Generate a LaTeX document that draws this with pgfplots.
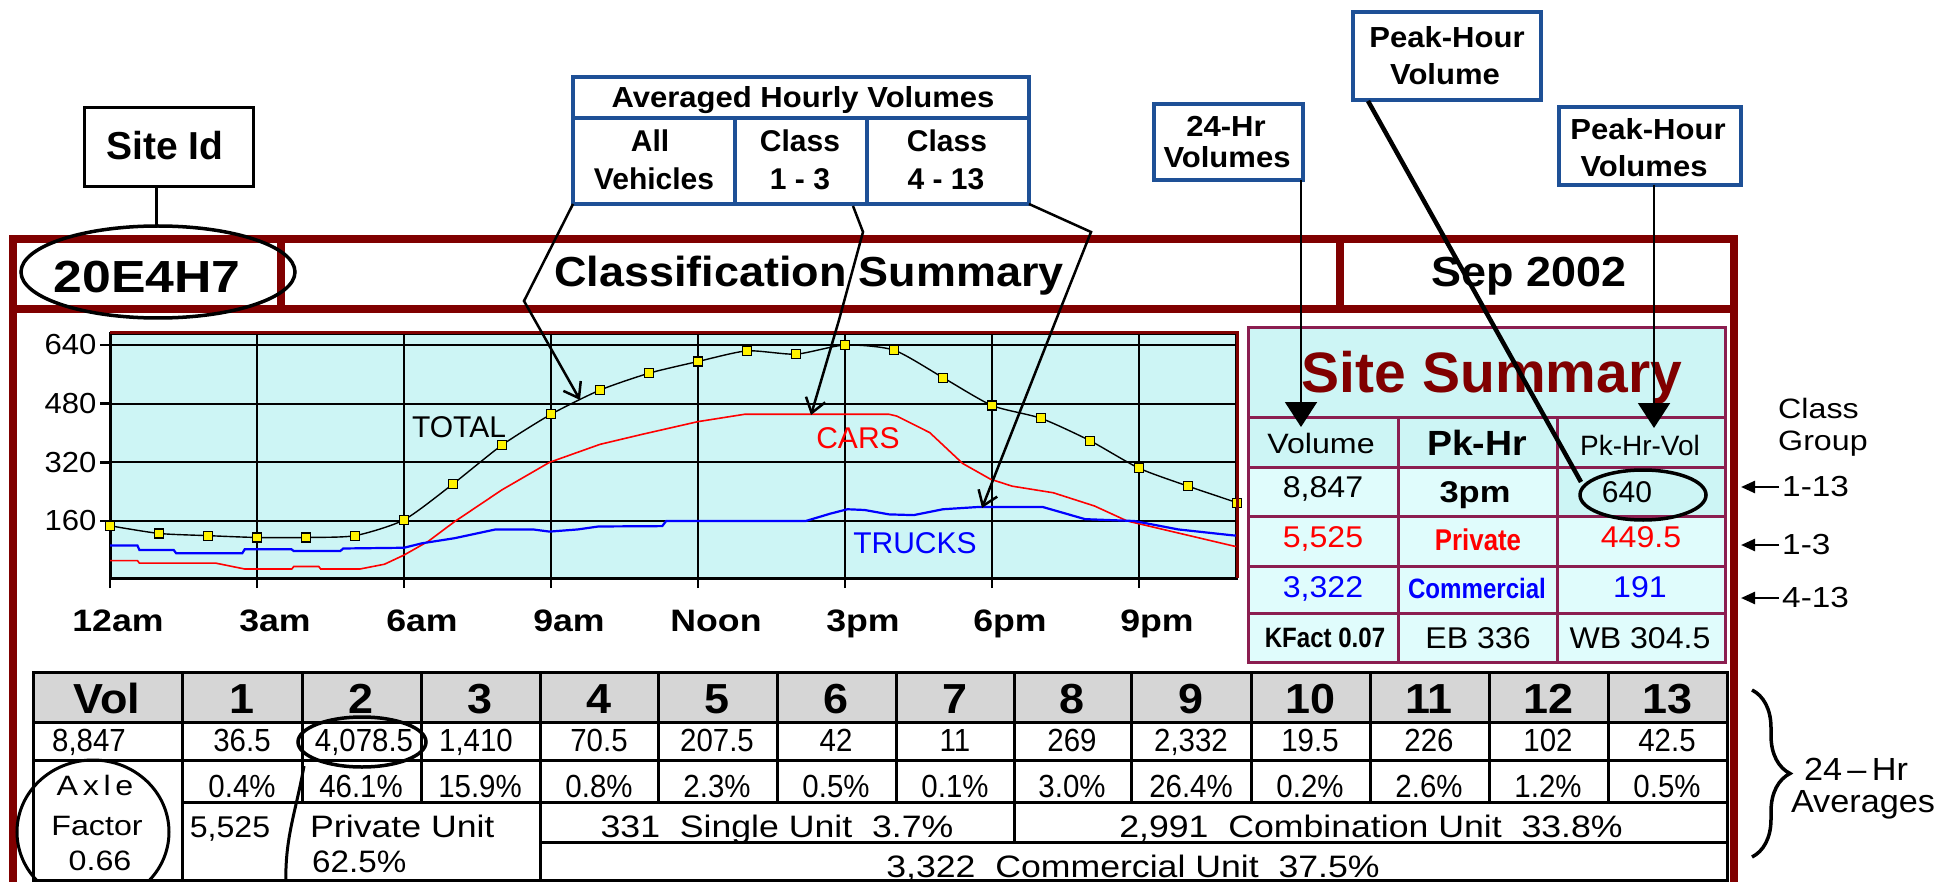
\documentclass[border=0pt]{standalone}
\usepackage{fontspec}
\usepackage{pgfplots}
\pgfplotsset{compat=1.18}
\usetikzlibrary{arrows.meta,decorations.pathreplacing}
\setmainfont{Liberation Sans}
\newfontfamily\W[FakeStretch=1.15]{Liberation Sans}
\newfontfamily\M[FakeStretch=1.07]{Liberation Sans}
\newfontfamily\N[FakeStretch=0.86]{Liberation Sans}
\newfontfamily\T[FakeStretch=0.92]{Liberation Sans}
\newcommand\fs[1]{\fontsize{#1}{#1}\selectfont}
\definecolor{frame}{RGB}{128,0,0}
\definecolor{ssb}{RGB}{139,30,80}
\definecolor{bbox}{RGB}{30,80,150}
\definecolor{cyanbg}{RGB}{205,245,245}
\definecolor{cyanlt}{RGB}{224,252,252}
\definecolor{hdr}{RGB}{214,214,214}
\begin{document}
\begin{tikzpicture}
\useasboundingbox (0pt,0pt) rectangle (1948pt,-882pt);
\clip (0pt,0pt) rectangle (1948pt,-882pt);
\begin{scope}[x=1pt,y=-1pt]
% main frame
\draw[frame, line width=8pt] (13,890) -- (13,239) -- (1734,239) -- (1734,890);
\draw[frame, line width=8pt] (9,309) -- (1738,309);
\draw[frame, line width=8pt] (281,239) -- (281,309);
\draw[frame, line width=8pt] (1340,239) -- (1340,309);
\node[anchor=base, inner sep=0] at (809,287) {\M\bfseries\fs{42}Classification Summary};
\node[anchor=base, inner sep=0] at (1529,287) {\M\bfseries\fs{42}Sep 2002};
\node[anchor=base, inner sep=0] at (147,293) {\W\bfseries\fs{45}20E4H7};
\end{scope}

\begin{axis}[
  at={(110pt,-578pt)}, anchor=south west, scale only axis,
  width=1127pt, height=245pt,
  xmin=0, xmax=23, ymin=4.5, ymax=672.7,
  axis background/.style={fill=cyanbg},
  axis line style={black, line width=3pt},
  xtick={0,3,...,21},
  xticklabels={{\kern-20pt 12am},3am,6am,9am,Noon,3pm,6pm,9pm},
  ytick={160,320,480,640},
  tick pos=left, tick align=outside, major tick length=10pt,
  tick style={black, line width=2.5pt},
  grid=major, major grid style={black, line width=2pt},
  xticklabel style={font=\W\bfseries\fs{31}, anchor=base, xshift=18pt, yshift=-43pt},
  yticklabel style={font=\M\fs{29}, anchor=east},
  /pgf/number format/assume math mode=true,
  clip=false,
]
\addplot[red, line width=1.6pt] coordinates {
(0,52) (0.56,52) (0.6,45) (2.16,45) (2.75,29) (3.71,29) (3.75,36) (4.26,36) (4.3,29) (5.1,29) (5.6,42) (6,67) (6.5,105) (7.03,158) (8,245) (8.97,320) (10,369) (10.85,396) (12,431) (12.95,451) (15.9,451) (16.06,446) (16.73,401) (17.4,317) (17.97,274) (18.41,255) (19.25,237) (20.09,201) (20.76,160) (22.92,92) (23,90)};
\addplot[blue, line width=2.2pt] coordinates {
(0,93) (0.56,93) (0.6,81) (1.3,81) (1.35,72) (2.7,72) (2.75,83) (3.7,83) (3.75,78) (4.7,78) (4.76,85) (6,87) (6.36,99) (7.03,113) (7.87,137) (8.63,137) (8.97,131) (9.55,137) (9.97,145) (11.27,146) (11.35,160) (14.2,160) (14.7,180) (15.05,192) (15.4,190) (15.9,178) (16.4,176) (17,192) (17.7,198) (19.04,198) (19.9,165) (20.9,160) (21.8,137) (22.9,121) (23,120)};
\addplot[black, line width=1.4pt, smooth, tension=0.4, mark=square*, mark size=4.5pt, mark options={fill=yellow, draw=black, line width=1.2pt}] coordinates {
(0,147) (1,126) (2,120) (3,115) (4,115) (5,120) (6,163) (7,261) (8,367) (9,451) (10,517) (11,563) (12,595) (13,624) (14,615) (15,640) (16,626) (17,551) (18,475) (19,440) (20,379) (21,304) (22,255) (23,210)};
\end{axis}

\begin{scope}[x=1pt,y=-1pt]
\draw[frame, line width=3pt] (110,333) -- (1237,333) -- (1237,578);
\node[anchor=base, inner sep=0] at (459,437) {\fs{30}TOTAL};
\node[anchor=base, inner sep=0, text=red] at (858,448) {\fs{30}CARS};
\node[anchor=base, inner sep=0, text=blue] at (915,553) {\fs{30}TRUCKS};

% ---------- Site Summary ----------
\fill[cyanbg] (1248,328) rectangle (1725,467);
\fill[cyanlt] (1248,467) rectangle (1725,662);
\fill[cyanbg] (1557,467) rectangle (1725,516);
\draw[ssb, line width=3pt] (1248,328) rectangle (1725,662);
\foreach \yy in {417,467,516,566,613} \draw[ssb, line width=3pt] (1248,\yy) -- (1725,\yy);
\draw[ssb, line width=3pt] (1398,417) -- (1398,662);
\draw[ssb, line width=3pt] (1557,417) -- (1557,662);
\node[anchor=base, inner sep=0, text=frame] at (1492,392) {\bfseries\fs{57}Site Summary};
\node[anchor=base, inner sep=0] at (1321,453) {\W\fs{28}Volume};
\node[anchor=base, inner sep=0] at (1477,455) {\M\bfseries\fs{35}Pk-Hr};
\node[anchor=base, inner sep=0] at (1640,455) {\fs{28}Pk-Hr-Vol};
\node[anchor=base, inner sep=0] at (1323,497) {\M\fs{30}8,847};
\node[anchor=base, inner sep=0] at (1475,502) {\W\bfseries\fs{30}3pm};
\node[anchor=base, inner sep=0] at (1627,502) {\fs{30}640};
\node[anchor=base, inner sep=0, text=red] at (1323,547) {\M\fs{30}5,525};
\node[anchor=base, inner sep=0, text=red] at (1478,550) {\N\bfseries\fs{30}Private};
\node[anchor=base, inner sep=0, text=red] at (1641,547) {\M\fs{30}449.5};
\node[anchor=base, inner sep=0, text=blue] at (1323,597) {\M\fs{30}3,322};
\node[anchor=base, inner sep=0, text=blue] at (1477,598) {\N\bfseries\fs{28}Commercial};
\node[anchor=base, inner sep=0, text=blue] at (1640,597) {\M\fs{30}191};
\node[anchor=base, inner sep=0] at (1325,647) {\N\bfseries\fs{28}KFact 0.07};
\node[anchor=base, inner sep=0] at (1478,648) {\M\fs{30}EB 336};
\node[anchor=base, inner sep=0] at (1640,648) {\M\fs{30}WB 304.5};
\draw[black, line width=3.5pt] (1643,495) ellipse [x radius=63, y radius=25];

% ---------- lower table ----------
\fill[hdr] (33,672) rectangle (1727,722);
\begin{scope}[line width=3pt, black]
\draw (33,672) rectangle (1727,880);
\draw (33,722) -- (1727,722);
\draw (33,760) -- (1727,760);
\draw (182,802) -- (1727,802);
\draw (540,842) -- (1727,842);
\foreach \xx in {302,421,658,777,896,1131,1251,1370,1489,1608} \draw (\xx,672) -- (\xx,802);
\draw (182,672) -- (182,880);
\draw (540,672) -- (540,880);
\draw (1014,672) -- (1014,842);
\end{scope}
\foreach \xx/\tt in {107/Vol,242/1,361/2,480/3,599/4,717/5,836/6,955/7,1072/8,1191/9,1310/10,1429/11,1548/12,1667/13}
  \node[anchor=base, inner sep=0] at (\xx,713) {\M\bfseries\fs{42}\tt};
\foreach \xx/\tt in {89/{8,847},242/36.5,364/{4,078.5},476/{1,410},599/70.5,717/207.5,836/42,955/11,1072/269,1191/{2,332},1310/19.5,1429/226,1548/102,1667/42.5}
  \node[anchor=base, inner sep=0] at (\xx,751) {\T\fs{32}\tt};
\foreach \xx/\tt in {242/0.4\%,361/46.1\%,480/15.9\%,599/0.8\%,717/2.3\%,836/0.5\%,955/0.1\%,1072/3.0\%,1191/26.4\%,1310/0.2\%,1429/2.6\%,1548/1.2\%,1667/0.5\%}
  \node[anchor=base, inner sep=0] at (\xx,797) {\T\fs{32}\tt};
\node[anchor=base, inner sep=0] at (95,795) {\W\fs{28}A\,x\,l\,e};
\node[anchor=base, inner sep=0] at (97,835) {\W\fs{28}Factor};
\node[anchor=base, inner sep=0] at (100,870) {\W\fs{28}0.66};
\node[anchor=base, inner sep=0] at (230,837) {\M\fs{30}5,525};
\node[anchor=base west, inner sep=0] at (310,837) {\W\fs{31}Private Unit};
\node[anchor=base west, inner sep=0] at (312,872) {\M\fs{31}62.5\%};
\node[anchor=base, inner sep=0] at (777,837) {\W\fs{31}331~~Single Unit~~3.7\%};
\node[anchor=base, inner sep=0] at (1371,837) {\W\fs{31}2,991~~Combination Unit~~33.8\%};
\node[anchor=base, inner sep=0] at (1133,877) {\W\fs{31}3,322~~Commercial Unit~~37.5\%};
\draw[black, line width=3pt] (93,832) ellipse [x radius=76, y radius=72];
\draw[black, line width=3.5pt] (362,742) ellipse [x radius=64, y radius=25];
\draw[black, line width=3pt] (304,766) to[out=-100,in=92] (286,886);

% ---------- right side notes ----------
\node[anchor=base west, inner sep=0] at (1778,418) {\W\fs{28}Class};
\node[anchor=base west, inner sep=0] at (1778,450) {\W\fs{28}Group};
\foreach \yy/\tt in {487/1-13,545/1-3,598/4-13} {
  \draw[-{Triangle[length=14pt,width=12pt]}, line width=2.5pt] (1779,\yy) -- (1741,\yy);
  \node[anchor=west, inner sep=0] at (1782,\yy) {\W\fs{29}\tt};
}
\draw[decorate, decoration={brace, amplitude=38pt}, line width=3.5pt] (1752,690) -- (1752,857);
\node[anchor=base, inner sep=0] at (1856,780) {\M\fs{32}24\,–\,Hr};
\node[anchor=base, inner sep=0] at (1863,812) {\M\fs{32}Averages};

% ---------- annotation boxes ----------
\draw[black, line width=3pt, fill=white] (84,108) rectangle (253,187);
\node[anchor=base, inner sep=0] at (165,160) {\bfseries\fs{39}Site Id};
\draw[black, line width=3pt] (156,187) -- (156,227);
\draw[black, line width=3.5pt] (158,272) ellipse [x radius=137, y radius=46];

\draw[bbox, line width=3.5pt, fill=white] (573,77) rectangle (1029,204);
\draw[bbox, line width=3.5pt] (573,118) -- (1029,118);
\draw[bbox, line width=3.5pt] (735,118) -- (735,204);
\draw[bbox, line width=3.5pt] (867,118) -- (867,204);
\node[anchor=base, inner sep=0] at (803,108) {\M\bfseries\fs{29}Averaged Hourly Volumes};
\node[anchor=base, inner sep=0] at (650,152) {\bfseries\fs{30}All};
\node[anchor=base, inner sep=0] at (654,190) {\bfseries\fs{30}Vehicles};
\node[anchor=base, inner sep=0] at (800,152) {\bfseries\fs{30}Class};
\node[anchor=base, inner sep=0] at (800,190) {\bfseries\fs{30}1 - 3};
\node[anchor=base, inner sep=0] at (947,152) {\bfseries\fs{30}Class};
\node[anchor=base, inner sep=0] at (946,190) {\bfseries\fs{30}4 - 13};

\draw[bbox, line width=3.5pt, fill=white] (1353,12) rectangle (1541,100);
\node[anchor=base, inner sep=0] at (1447,48) {\M\bfseries\fs{29}Peak-Hour};
\node[anchor=base, inner sep=0] at (1445,85) {\M\bfseries\fs{29}Volume};
\draw[bbox, line width=3.5pt, fill=white] (1154,104) rectangle (1303,180);
\node[anchor=base, inner sep=0] at (1226,137) {\M\bfseries\fs{29}24-Hr};
\node[anchor=base, inner sep=0] at (1227,168) {\M\bfseries\fs{29}Volumes};
\draw[bbox, line width=3.5pt, fill=white] (1559,107) rectangle (1741,185);
\node[anchor=base, inner sep=0] at (1648,140) {\M\bfseries\fs{29}Peak-Hour};
\node[anchor=base, inner sep=0] at (1644,177) {\M\bfseries\fs{29}Volumes};

% ---------- pointer lines ----------
\begin{scope}[line width=2.5pt, black]
\draw[-{Straight Barb[length=14pt,width=20pt]}] (573,204) -- (524,301) -- (580,400);
\draw[-{Straight Barb[length=14pt,width=20pt]}] (853,206) -- (863,232) -- (839,320) -- (811,415);
\draw[-{Straight Barb[length=14pt,width=20pt]}] (1029,204) -- (1091,232) -- (1056,320) -- (982,508);
\end{scope}
\draw[line width=2pt, -{Triangle[length=25pt,width=32pt]}] (1301,180) -- (1301,427);
\draw[line width=2pt, -{Triangle[length=25pt,width=32pt]}] (1654,185) -- (1654,428);
\draw[line width=4.5pt] (1368,101) -- (1581,482);
\end{scope}
\end{tikzpicture}
\end{document}
